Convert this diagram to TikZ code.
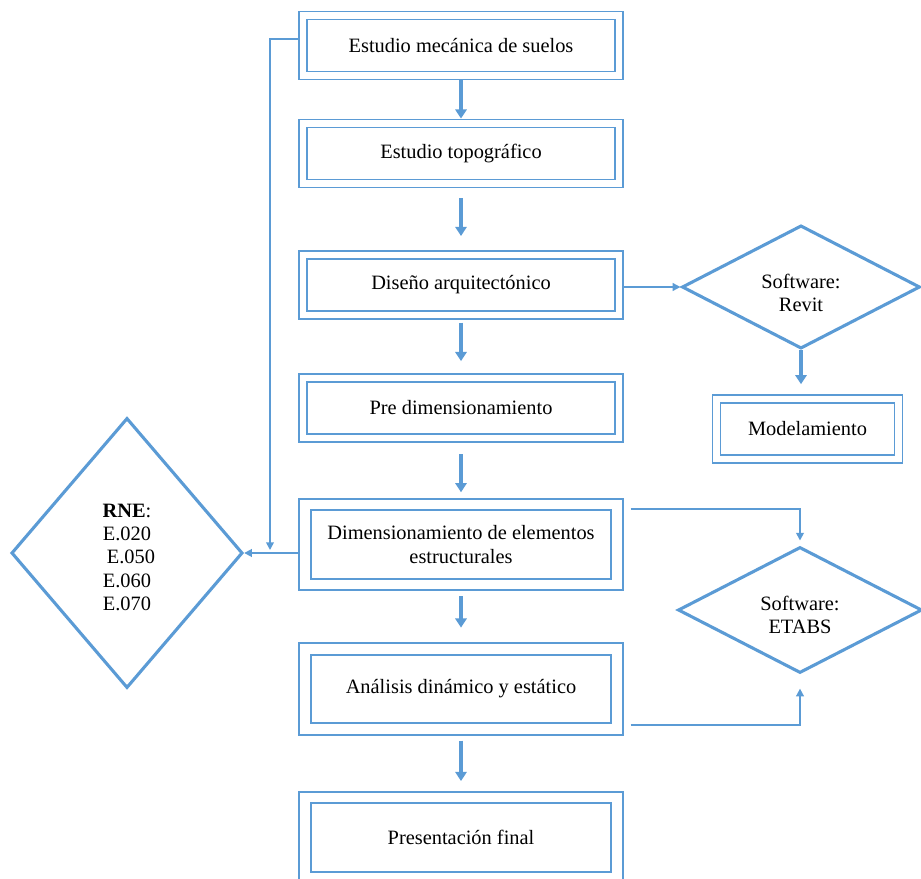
\documentclass[tikz,border=0pt]{standalone}
\usepackage{fontspec}
\setmainfont{Liberation Serif}
\usepackage{xcolor}
\usepackage{tikz}
\usetikzlibrary{arrows.meta,shapes.geometric}

\definecolor{azul}{RGB}{91,155,213}

\tikzset{
  caja/.style={draw=azul, line width=1.3pt, double=white, double distance=4.4pt,
    outer sep=3.5pt, inner sep=0pt, minimum width=7.9cm, minimum height=1.5cm, align=center},
  cajaalta/.style={caja, double distance=6.8pt, outer sep=4.7pt, minimum width=7.8cm, minimum height=2cm},
  rombo/.style={diamond, aspect=2, draw=azul, line width=2.2pt, inner sep=0pt, align=center},
  flecha/.style={draw=azul, line width=2.4pt, -{Triangle[length=6.5pt,width=8pt]}},
  fina/.style={draw=azul, line width=1.2pt, -{Triangle[length=5.5pt,width=5.5pt]}}
}

\begin{document}
\begin{tikzpicture}[x=0.025cm, y=-0.025cm, font=\fontsize{14.5}{16.6}\selectfont]

\useasboundingbox (0,0) rectangle (921,879);
\clip (0,0) rectangle (921,879);

% columna central
\node[caja] (suelos) at (461,45.5) {Estudio mecánica de suelos};
\node[caja] (topo) at (461,153.5) {Estudio topográfico};
\node[caja] (diseno) at (461,285) {Diseño arquitectónico};
\node[caja] (predim) at (461,408) {Pre dimensionamiento};
\node[cajaalta] (dimens) at (461,544.5) {Dimensionamiento de elementos\\estructurales};
\node[cajaalta] (analisis) at (461,689) {Análisis dinámico y estático};
\node[cajaalta] (final) at (461,837.5) {Presentación final};

\draw[flecha] (suelos) -- (topo);
\draw[flecha, shorten <=7pt, shorten >=10pt] (topo) -- (diseno);
\draw[flecha, shorten <=2pt, shorten >=8.5pt] (diseno) -- (predim);
\draw[flecha, shorten <=8pt, shorten >=4pt] (predim) -- (dimens);
\draw[flecha, shorten <=3.5pt, shorten >=10.5pt] (dimens) -- (analisis);
\draw[flecha, shorten <=3.5pt, shorten >=7pt] (analisis) -- (final);

%%%%%%%%%%%%%%%
% software
\node[rombo, minimum width=5.95cm, minimum height=3.08cm] (revit) at (801,287)
  {\rule{0pt}{18.5pt}Software:\\Revit};
\node[caja, minimum width=4.55cm] (modela) at (807.5,429) {Modelamiento};
\node[rombo, minimum width=6.1cm, minimum height=3.15cm] (etabs) at (800,610)
  {\rule{0pt}{17pt}Software:\\ETABS};

\draw[fina] (diseno.east |- revit.west) -- (revit.west);
\draw[flecha, shorten >=7pt] (revit.south) -- (revit.south |- modela.north);
\draw[fina, shorten <=5pt, shorten >=3.5pt] ([yshift=0.89cm]dimens.east) -| (etabs.north);
\draw[fina, shorten <=5pt, shorten >=10pt] ([yshift=-0.9cm]analisis.east) -| (etabs.south);

%%%%%%%%%%%%%%%
% reglamento
\node[rombo, aspect=1, minimum width=5.78cm, minimum height=6.75cm] (rne) at (127,553)
  {\rule{0pt}{15.5pt}\textbf{RNE}:\\E.020\\\hspace*{0.2cm}E.050\\E.060\\E.070};

\coordinate (codo) at (270,550);
\draw[fina] ([yshift=0.16cm]suelos.west) -| (codo);
\draw[fina] (dimens.west |- rne.east) -- (rne.east);

\end{tikzpicture}
\end{document}
